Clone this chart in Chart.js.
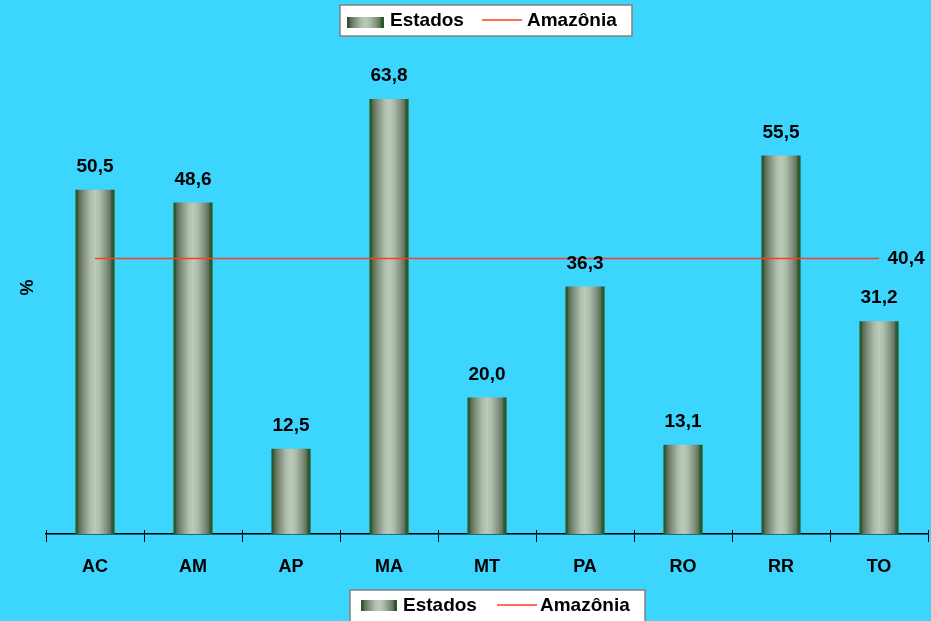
<!DOCTYPE html>
<html>
<head>
<meta charset="utf-8">
<script src="https://cdn.jsdelivr.net/npm/chart.js@4/dist/chart.umd.min.js"></script>
<style>
html,body{margin:0;padding:0;background:#3BD5FE;}
#wrap{width:931px;height:621px;}
</style>
</head>
<body>
<div id="wrap"><canvas id="c" width="931" height="621"></canvas></div>
<script>
const categories = ['AC','AM','AP','MA','MT','PA','RO','RR','TO'];
const estados = [50.5, 48.6, 12.5, 63.8, 20.0, 36.3, 13.1, 55.5, 31.2];
const amazonia = [40.4, 40.4, 40.4, 40.4, 40.4, 40.4, 40.4, 40.4, 40.4];
const amazoniaValue = 40.4;
const seriesNames = ['Estados', 'Amazônia'];

const FONT = "'Liberation Sans', Arial, sans-serif";
const BG = '#3BD5FE';
const RED = '#FF3C1E';

function fmt(v){ return v.toFixed(1).replace('.', ','); }

function barGradient(ctx, x0, x1){
  const g = ctx.createLinearGradient(x0, 0, x1, 0);
  g.addColorStop(0.00, '#2c5a28');
  g.addColorStop(0.06, '#2f5a2c');
  g.addColorStop(0.08, '#56684f');
  g.addColorStop(0.20, '#7d8d7a');
  g.addColorStop(0.38, '#aebcab');
  g.addColorStop(0.50, '#bccabb');
  g.addColorStop(0.62, '#aebcab');
  g.addColorStop(0.78, '#849482');
  g.addColorStop(0.90, '#5e705c');
  g.addColorStop(0.93, '#2e5a2a');
  g.addColorStop(1.00, '#2a5826');
  return g;
}

const bgPlugin = {
  id: 'bg',
  beforeDraw(chart){
    const c = chart.ctx;
    c.save();
    c.fillStyle = BG;
    c.fillRect(0, 0, chart.width, chart.height);
    c.restore();
  }
};

function drawLegend(c, box, mk, t1x, l1, l2, t2x, cy){
  c.save();
  c.fillStyle = '#ffffff';
  c.fillRect(box[0], box[1], box[2], box[3]);
  c.strokeStyle = '#808080';
  c.lineWidth = 1.5;
  c.strokeRect(box[0], box[1], box[2], box[3]);
  c.fillStyle = barGradient(c, mk[0], mk[0] + mk[2]);
  c.fillRect(mk[0], mk[1], mk[2], mk[3]);
  c.font = 'bold 19px ' + FONT;
  c.fillStyle = '#000';
  c.textBaseline = 'middle';
  c.textAlign = 'left';
  c.fillText(seriesNames[0], t1x, cy);
  c.strokeStyle = RED;
  c.lineWidth = 1.5;
  c.beginPath();
  c.moveTo(l1, cy - 1);
  c.lineTo(l2, cy - 1);
  c.stroke();
  c.fillText(seriesNames[1], t2x, cy);
  c.restore();
}

const overlay = {
  id: 'overlay',
  afterDraw(chart){
    const c = chart.ctx;
    const xs = chart.scales.x;
    const ys = chart.scales.y;
    c.save();
    c.strokeStyle = '#000';
    c.lineWidth = 1;
    const step = (xs.right - xs.left) / categories.length;
    for (let i = 0; i <= categories.length; i++){
      const x = Math.round(xs.left + i * step) + 0.5;
      c.beginPath();
      c.moveTo(x, xs.top - 4);
      c.lineTo(x, xs.top);
      c.stroke();
    }
    c.font = 'bold 19px ' + FONT;
    c.fillStyle = '#000';
    c.textAlign = 'center';
    c.textBaseline = 'middle';
    const meta = chart.getDatasetMeta(1);
    meta.data.forEach((bar, i) => {
      c.fillText(fmt(estados[i]), bar.x, bar.y - 23);
    });
    const lm = chart.getDatasetMeta(0);
    const last = lm.data[lm.data.length - 1];
    c.fillText(fmt(amazoniaValue), last.x + 27, ys.getPixelForValue(amazoniaValue));
    c.restore();
    drawLegend(c, [340, 5, 292, 31], [347, 17, 37, 11], 390, 482, 522, 527, 21);
    drawLegend(c, [350, 590, 295, 40], [361, 600, 36, 11], 403, 497, 537, 540, 606);
  }
};

new Chart(document.getElementById('c'), {
  data: {
    labels: categories,
    datasets: [
      {
        type: 'line',
        label: seriesNames[1],
        data: amazonia,
        borderColor: RED,
        borderWidth: 1.5,
        pointRadius: 0,
        fill: false,
        order: 0
      },
      {
        type: 'bar',
        label: seriesNames[0],
        data: estados,
        order: 1,
        barPercentage: 0.4,
        categoryPercentage: 1,
        borderWidth: 0,
        backgroundColor(ctx){
          const chart = ctx.chart;
          const xs = chart.scales && chart.scales.x;
          if (!xs || !chart.chartArea) return '#8a9a88';
          const x = xs.getPixelForValue(ctx.dataIndex);
          const hw = (xs.right - xs.left) / categories.length * 0.4 / 2;
          return barGradient(chart.ctx, x - hw, x + hw);
        }
      }
    ]
  },
  options: {
    responsive: false,
    animation: false,
    devicePixelRatio: 1,
    layout: { padding: { top: 41, right: 3, bottom: 27, left: 0 } },
    plugins: {
      legend: { display: false },
      tooltip: { enabled: false }
    },
    scales: {
      x: {
        offset: true,
        grid: {
          display: true,
          offset: true,
          drawOnChartArea: false,
          drawTicks: true,
          tickLength: 8,
          color: '#000',
          lineWidth: 1
        },
        border: { display: true, color: '#000', width: 1.5 },
        ticks: {
          color: '#000',
          font: { family: FONT, size: 18, weight: 'bold' },
          padding: 14,
          maxRotation: 0
        },
        afterFit(scale){ scale.height = 60; }
      },
      y: {
        min: 0,
        max: 72.3,
        grid: { display: false },
        border: { display: false },
        ticks: { display: false },
        title: {
          display: true,
          text: '%',
          color: '#000',
          font: { family: FONT, size: 18, weight: 'bold' },
          padding: { top: 17, bottom: 0 }
        },
        afterFit(scale){ scale.width = 46; }
      }
    }
  },
  plugins: [bgPlugin, overlay]
});
</script>
</body>
</html>
